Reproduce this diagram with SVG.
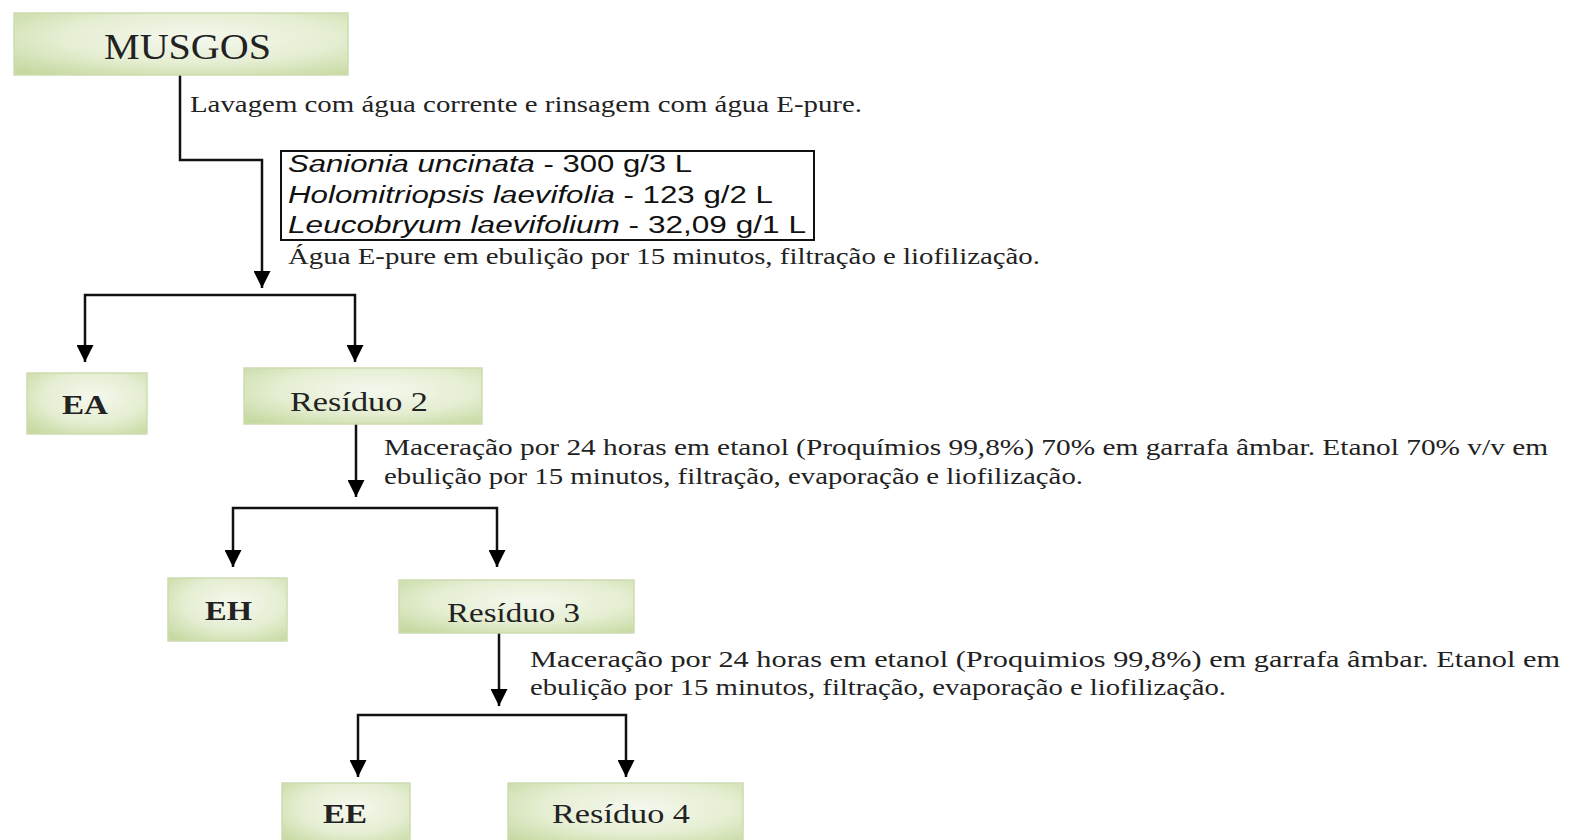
<svg xmlns="http://www.w3.org/2000/svg" width="1576" height="840" viewBox="0 0 1576 840">
<defs>
<radialGradient id="g" cx="0.55" cy="0.4" r="0.75">
<stop offset="0" stop-color="#f5f8ee"/>
<stop offset="0.55" stop-color="#e5eed2"/>
<stop offset="1" stop-color="#c6d9a0"/>
</radialGradient>
<marker id="ah" viewBox="0 0 10 10" refX="10" refY="5" markerWidth="17" markerHeight="17" markerUnits="userSpaceOnUse" orient="auto">
<path d="M0,0 L10,5 L0,10 z" fill="#000"/>
</marker>
<style>
.box{fill:url(#g);stroke:#cddcb2;stroke-width:1.5}
.n{font-family:"Liberation Serif",serif;fill:#222}
.b{font-weight:bold}
.t{font-family:"Liberation Serif",serif;font-size:23px;fill:#222}
.a{font-family:"Liberation Sans",Arial,sans-serif;font-size:23px;fill:#111}
.c{fill:none;stroke:#111;stroke-width:2.5}
</style>
</defs>
<g id="connectors">
<path class="c" d="M180,75 V160 H262 V288" marker-end="url(#ah)"/>
<path class="c" d="M220,295 H85 V362" marker-end="url(#ah)"/>
<path class="c" d="M220,295 H355 V362" marker-end="url(#ah)"/>
<path class="c" d="M356,424 V497" marker-end="url(#ah)"/>
<path class="c" d="M365,508 H233 V567" marker-end="url(#ah)"/>
<path class="c" d="M365,508 H497 V567" marker-end="url(#ah)"/>
<path class="c" d="M499,633 V706" marker-end="url(#ah)"/>
<path class="c" d="M490,715 H358 V777" marker-end="url(#ah)"/>
<path class="c" d="M490,715 H626 V777" marker-end="url(#ah)"/>
</g>
<g id="musgos">
<rect class="box" x="14" y="13" width="334" height="62"/>
<text class="n" x="104" y="59" font-size="36" textLength="167" lengthAdjust="spacingAndGlyphs">MUSGOS</text>
</g>
<g id="label-lavagem">
<text class="t" x="190" y="112" textLength="672" lengthAdjust="spacingAndGlyphs">Lavagem com água corrente e rinsagem com água E-pure.</text>
</g>
<g id="species-box">
<rect x="281" y="151" width="533" height="89" fill="#fff" stroke="#111" stroke-width="2"/>
<text class="a" x="288" y="172" textLength="404" lengthAdjust="spacingAndGlyphs"><tspan font-style="italic">Sanionia uncinata</tspan> - 300 g/3 L</text>
<text class="a" x="288" y="203" textLength="485" lengthAdjust="spacingAndGlyphs"><tspan font-style="italic">Holomitriopsis laevifolia</tspan> - 123 g/2 L</text>
<text class="a" x="288" y="233" textLength="518" lengthAdjust="spacingAndGlyphs"><tspan font-style="italic">Leucobryum laevifolium</tspan> - 32,09 g/1 L</text>
</g>
<g id="label-agua">
<text class="t" x="288" y="264" textLength="752" lengthAdjust="spacingAndGlyphs">Água E-pure em ebulição por 15 minutos, filtração e liofilização.</text>
</g>
<g id="ea">
<rect class="box" x="27" y="373" width="120" height="61"/>
<text class="n b" x="62" y="414" font-size="28" textLength="46" lengthAdjust="spacingAndGlyphs">EA</text>
</g>
<g id="residuo2">
<rect class="box" x="244" y="368" width="238" height="56"/>
<text class="n" x="290" y="411" font-size="27" textLength="138" lengthAdjust="spacingAndGlyphs">Resíduo 2</text>
</g>
<g id="label-maceracao1">
<text class="t" x="384" y="455" textLength="1164" lengthAdjust="spacingAndGlyphs">Maceração por 24 horas em etanol (Proquímios 99,8%) 70% em garrafa âmbar. Etanol 70% v/v em</text>
<text class="t" x="384" y="484" textLength="699" lengthAdjust="spacingAndGlyphs">ebulição por 15 minutos, filtração, evaporação e liofilização.</text>
</g>
<g id="eh">
<rect class="box" x="168" y="578" width="119" height="63"/>
<text class="n b" x="205" y="620" font-size="28" textLength="47" lengthAdjust="spacingAndGlyphs">EH</text>
</g>
<g id="residuo3">
<rect class="box" x="399" y="580" width="235" height="53"/>
<text class="n" x="447" y="622" font-size="27" textLength="133" lengthAdjust="spacingAndGlyphs">Resíduo 3</text>
</g>
<g id="label-maceracao2">
<text class="t" x="530" y="667" textLength="1030" lengthAdjust="spacingAndGlyphs">Maceração por 24 horas em etanol (Proquimios 99,8%) em garrafa âmbar. Etanol em</text>
<text class="t" x="530" y="695" textLength="696" lengthAdjust="spacingAndGlyphs">ebulição por 15 minutos, filtração, evaporação e liofilização.</text>
</g>
<g id="ee">
<rect class="box" x="282" y="783" width="128" height="62"/>
<text class="n b" x="323" y="823" font-size="28" textLength="44" lengthAdjust="spacingAndGlyphs">EE</text>
</g>
<g id="residuo4">
<rect class="box" x="508" y="783" width="235" height="62"/>
<text class="n" x="552" y="823" font-size="27" textLength="138" lengthAdjust="spacingAndGlyphs">Resíduo 4</text>
</g>
</svg>
